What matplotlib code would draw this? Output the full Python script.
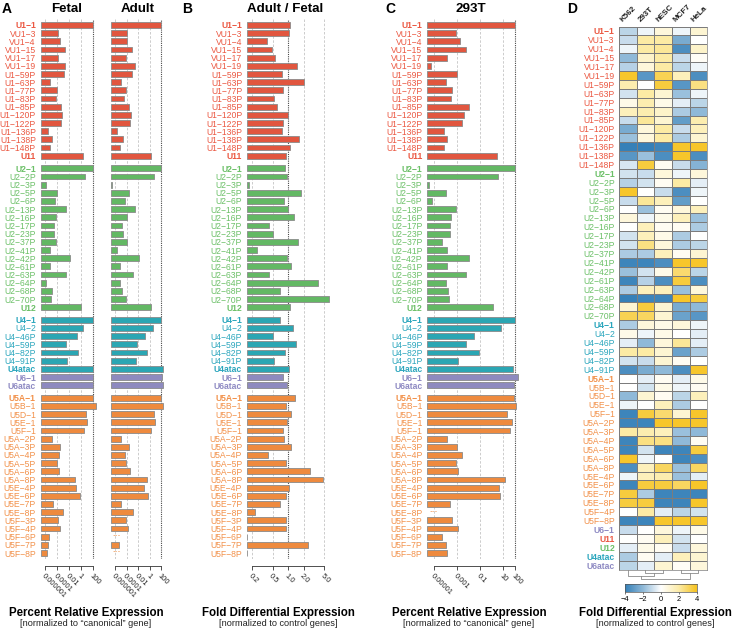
import numpy as np
import matplotlib
matplotlib.use('Agg')
import matplotlib.pyplot as plt
import matplotlib.transforms as mtransforms
from matplotlib.colors import LinearSegmentedColormap
from matplotlib.ticker import NullLocator

plt.rcParams['font.family'] = ['Liberation Sans', 'DejaVu Sans']

## genes dos paineis de barras (A, B, C)
genes = ['U1−1', 'VU1−3', 'VU1−4', 'VU1−15', 'VU1−17', 'VU1−19', 'U1−59P', 'U1−63P',
         'U1−77P', 'U1−83P', 'U1−85P', 'U1−120P', 'U1−122P', 'U1−136P', 'U1−138P',
         'U1−148P', 'U11',
         'U2−1', 'U2−2P', 'U2−3P', 'U2−5P', 'U2−6P', 'U2−13P', 'U2−16P', 'U2−17P',
         'U2−23P', 'U2−37P', 'U2−41P', 'U2−42P', 'U2−61P', 'U2−63P', 'U2−64P',
         'U2−68P', 'U2−70P', 'U12',
         'U4−1', 'U4−2', 'U4−46P', 'U4−59P', 'U4−82P', 'U4−91P', 'U4atac',
         'U6−1', 'U6atac',
         'U5A−1', 'U5B−1', 'U5D−1', 'U5E−1', 'U5F−1', 'U5A−2P', 'U5A−3P', 'U5A−4P',
         'U5A−5P', 'U5A−6P', 'U5A−8P', 'U5E−4P', 'U5E−6P', 'U5E−7P', 'U5E−8P',
         'U5F−3P', 'U5F−4P', 'U5F−6P', 'U5F−7P', 'U5F−8P']
grupos = ['U1'] * 17 + ['U2'] * 18 + ['U4'] * 7 + ['U6'] * 2 + ['U5'] * 20
quebras = [17, 35, 44]

fetal = [100, 1.3e-4, 3.6e-4, 1.9e-3, 1.7e-4, 2.1e-3, 1.5e-3, 7.8e-6, 8.7e-5, 7.8e-5,
         4.1e-4, 6.8e-4, 5.2e-4, 3.6e-6, 1.3e-5, 6.8e-6, 1.9,
         100, 5.2, 1.7e-6, 1.0e-4, 4.7e-5, 2.8e-3, 7.8e-5, 3.2e-5, 3.6e-5, 7.8e-5,
         7.8e-6, 1.3e-2, 6.0e-6, 2.8e-3, 1.7e-6, 1.5e-5, 1.0e-5, 1.0,
         100, 1.9, 0.25, 3.6e-3, 0.28, 5.2e-3, 115,
         115, 115,
         87, 360, 6.0, 11.5, 2.8, 1.5e-5, 3.2e-4, 2.1e-4, 1.0e-4, 1.9e-4, 0.087,
         0.15, 0.78, 1.9e-5, 1.1e-3, 1.3e-4, 2.8e-4, 4.7e-6, 2.8e-6, 2.5e-6]

adulto = [100, 1.2e-4, 1.3e-4, 8.7e-4, 7.9e-5, 2.8e-3, 1.0e-3, 1.3e-5, 7.1e-5, 3.5e-5,
          2.3e-4, 6.6e-4, 3.9e-4, 2.0e-6, 2.1e-5, 7.2e-6, 1.7,
          100, 5.5, 3.5e-7, 2.3e-4, 4.7e-5, 3.2e-3, 1.2e-4, 1.6e-5, 2.1e-5, 1.3e-4,
          2.2e-6, 1.4e-2, 7.2e-6, 1.3e-3, 6.3e-6, 1.4e-5, 7.1e-5, 1.4,
          100, 3.2, 0.17, 7.2e-3, 0.34, 4.3e-3, 170,
          132, 170,
          100, 224, 4.8, 7.2, 1.4, 9.5e-6, 3.0e-4, 5.4e-5, 7.1e-5, 3.4e-4, 0.30,
          0.10, 0.50, 9.5e-6, 1.1e-3, 9.1e-5, 1.5e-4, np.nan, 4.4e-6, np.nan]

adulto_fetal = [1.10, 1.02, 0.39, 0.48, 0.55, 1.49, 0.75, 2.0, 0.78, 0.52, 0.60, 0.98,
                0.78, 0.76, 1.63, 1.07, 0.91,
                0.87, 0.94, 0.175, 1.78, 0.84, 0.99, 1.28, 0.42, 0.51, 1.53, 0.25, 0.94,
                1.14, 0.42, 3.77, 0.69, 6.4, 1.09,
                0.70, 1.23, 0.51, 1.40, 0.86, 0.52, 1.05,
                0.78, 0.95,
                1.38, 0.90, 1.15, 0.94, 0.79, 0.82, 1.12, 0.40, 0.92, 2.67, 4.84, 1.04,
                0.90, 0.70, 0.23, 0.89, 0.92, 0.161, 2.47, 0.161]

hek293t = [100, 8.1e-4, 1.8e-3, 6.2e-3, 1.3e-4, 5.1e-6, 9.5e-4, 9.8e-5, 3.7e-4, 2.7e-4,
           1.1e-2, 3.6e-3, 2.8e-3, 7.4e-5, 1.2e-4, 6.9e-5, 2.7,
           100, 3.3, 3.2e-6, 1.0e-4, 6.3e-6, 7.2e-4, 2.7e-4, 2.2e-4, 2.3e-4, 4.7e-5,
           1.2e-4, 9.8e-3, 1.4e-4, 5.4e-3, 9.8e-5, 1.7e-4, 1.8e-4, 1.2,
           100, 6.3, 0.030, 5.8e-3, 0.083, 1.1e-3, 66,
           182, 93,
           93, 138, 23, 58, 41, 1.3e-4, 1.0e-3, 2.8e-3, 8.1e-4, 1.2e-3, 13.5, 4.0, 5.6,
           2.3e-4, np.nan, 3.2e-4, 1.1e-3, 5.0e-5, 9.8e-5, 1.3e-4]

## heatmap (painel D)
hm_genes = ['U1−1', 'VU1−3', 'VU1−4', 'VU1−15', 'VU1−17', 'VU1−19', 'U1−59P', 'U1−63P',
            'U1−77P', 'U1−83P', 'U1−85P', 'U1−120P', 'U1−122P', 'U1−136P', 'U1−138P',
            'U1−148P',
            'U2−1', 'U2−2P', 'U2−3P', 'U2−5P', 'U2−6P', 'U2−13P', 'U2−16P', 'U2−17P',
            'U2−23P', 'U2−37P', 'U2−41P', 'U2−42P', 'U2−61P', 'U2−63P', 'U2−64P',
            'U2−68P', 'U2−70P',
            'U4−1', 'U4−2', 'U4−46P', 'U4−59P', 'U4−82P', 'U4−91P',
            'U5A−1', 'U5B−1', 'U5D−1', 'U5E−1', 'U5F−1', 'U5A−2P', 'U5A−3P', 'U5A−4P',
            'U5A−5P', 'U5A−6P', 'U5A−8P', 'U5E−4P', 'U5E−6P', 'U5E−7P', 'U5E−8P',
            'U5F−4P', 'U5F−8P',
            'U6−1', 'U11', 'U12', 'U4atac', 'U6atac']
hm_grupos = ['U1'] * 16 + ['U2'] * 17 + ['U4'] * 6 + ['U5'] * 17 + ['U6', 'U1', 'U2', 'U4', 'U6']
linhagens = ['K562', '293T', 'hESC', 'MCF7', 'HeLa']

k562 = [-1.2, -1.0, -0.3, -2.0, -1.3, 3.8, 1.8, -0.8, 0.5, 1.5, -1.0, -2.5, -1.8, -4, -3.2, -0.7,
        -0.8, -1.3, 3.8, -1.0, 0, 0.8, 0, -0.8, -0.8, -1.5, -3.8, -1.8, -3.8, -1.5, -4, 1.0, 3.2,
        -1.5, 0.5, -0.5, 2.0, -0.8, -3.5,
        0, 0, -2.0, -0.3, -3.8, -3.8, 2.0, -3.8, -3.8, 3.8, -3.5, -0.3, -3.8, 3.5, 3.5, 0, -3.8,
        -1.0, 0, -0.5, -1.5, -1.2]
fd_293t = [-0.3, 2.0, 2.0, 1.2, 0.8, -3.2, 0, 2.0, 1.8, 1.8, 2.2, 0.8, 0.8, -4, -1.8, 3.5,
           -1.0, -0.8, 0, 2.2, -1.8, -0.3, 1.5, 1.5, 2.5, -1.5, -3.8, -0.8, -1.3, 1.5, -3.8, 3.5, 3.0,
           0.8, -0.3, -2.0, 2.0, -1.0, -2.5,
           -0.5, -0.8, 1.0, 0, 3.5, -3.8, 1.8, 2.5, -0.8, -0.3, 1.5, 1.5, 3.5, -1.5, 3.5, 2.0, -3.8,
           0, 0.3, 0.5, 0.3, -0.5]
hesc = [0.8, 2.0, 2.2, 2.0, 2.0, 3.2, 3.5, 1.0, 0.5, 1.2, 1.0, 2.0, 2.0, -3.8, -3.5, 0.3,
        0.8, 0.3, -1.0, 1.5, 0.3, 0.5, 0.3, 0.5, 0.8, 1.5, -3.5, 0.5, -3.5, 1.5, -3.8, 1.0, 1.0,
        0.5, 0.5, 0.8, 1.0, 1.0, -2.0,
        0.3, 0.5, 0.3, 1.5, 2.8, 3.8, 1.5, 2.5, -3.8, 0, 3.0, 1.8, 3.5, -3.8, -3.8, -0.5, 3.8,
        0.8, 1.5, 0.3, -0.5, 1.0]
mcf7 = [-0.3, -2.5, -3.5, -1.0, -1.2, 1.5, -3.2, -1.8, -0.5, -1.5, -3.0, -1.0, -1.5, 3.8, 3.8, -1.0,
        -0.3, 2.0, -3.5, -3.0, 0.8, 1.5, 0.3, -1.5, -1.5, 0.3, 3.8, 2.8, 3.5, -1.8, 3.8, -2.5, -2.8,
        0.8, 0, 2.2, -2.8, 0.3, -3.5,
        -0.5, -0.3, -1.2, -1.5, 1.0, 3.8, -1.8, -2.0, -3.8, -3.8, -1.8, -1.8, 3.0, -3.8, -3.8, -1.2, 3.8,
        -0.3, -0.8, -1.0, 1.5, 0.2]
hela = [1.0, 0, 1.2, 0.2, -0.3, -3.5, 2.5, -0.3, -1.2, -2.0, 1.8, 1.5, 1.0, 3.8, -3.5, -2.2,
        0.8, -0.5, -0.3, 0, 1.5, -1.8, -1.5, 0, -1.2, 1.0, 3.8, -1.2, -3.5, 0.8, 3.5, -2.0, -3.2,
        -0.3, -0.5, -0.5, -1.5, 0, 3.8,
        0.5, 0.3, 1.5, 0, 3.8, 3.8, -2.0, 0.3, 3.5, -3.5, 3.0, -0.5, 3.8, -3.8, 3.8, -0.8, 3.8,
        0.5, 0, 0.8, 1.0, 0.8]

## dendrograma das colunas: (grupo esquerdo, grupo direito, altura)
dendro = [((1,), (2,), 1.0), ((3,), (4,), 1.0), ((0,), (1, 2), 1.8), ((0, 1, 2), (3, 4), 2.7)]

negrito = {'U1−1', 'U11', 'U2−1', 'U12', 'U4−1', 'U4atac', 'U6−1', 'U6atac', 'U5A−1'}
cor_barra = {'U1': '#E1563F', 'U2': '#63B864', 'U4': '#2BA6B3', 'U6': '#8E8ABF', 'U5': '#EE8A3E'}
cor_texto = {'U1': '#EB5842', 'U2': '#6CC068', 'U4': '#2BA6BD', 'U6': '#8E8AC3', 'U5': '#F2914A'}

W, H = 737, 630
fig = plt.figure(figsize=(W / 100, H / 100), dpi=100)


def eixo(x0, y0, x1, y1):
    return fig.add_axes([x0 / W, 1 - y1 / H, (x1 - x0) / W, (y1 - y0) / H])


def texto(x, y, s, **kw):
    fig.text(x / W, 1 - y / H, s, **kw)


## posicoes verticais com espacos entre os grupos
ypos = np.arange(len(genes), dtype=float)
for q in quebras:
    ypos[q:] += 0.55
topo = 25 - 0.7 * 8.17
base = 553 + 0.7 * 8.17


def painel_barras(x0, x1, valores, xlim, ticks, ticklabels, ref, rotulos):
    ax = eixo(x0, topo, x1, base)
    ax.set_xscale('log')
    ax.set_xlim(xlim)
    ax.set_ylim(ypos[-1] + 0.7, -0.7)
    for t in ticks:
        if t != ref:
            ax.axvline(t, color='#c4c4c4', lw=0.6, ls=(0, (3, 2)), zorder=0)
    ax.axvline(ref, color='#4a4a4a', lw=0.8, ls=(0, (1, 1)), zorder=0)
    v = np.array(valores, dtype=float)
    ok = ~np.isnan(v)
    cores = np.array([cor_barra[g] for g in grupos])
    ax.barh(ypos[ok], v[ok] - xlim[0], left=xlim[0], height=0.72, color=cores[ok],
            edgecolor='#8a8a8a', linewidth=0.6, zorder=2)
    trans = mtransforms.blended_transform_factory(ax.transAxes, ax.transData)
    for i in np.where(~ok)[0]:
        ax.text(0.02, ypos[i], '···', transform=trans, color=cor_barra[grupos[i]],
                ha='left', va='center', fontsize=6, fontweight='bold')
    for s in ['top', 'right', 'left']:
        ax.spines[s].set_visible(False)
    ax.spines['bottom'].set_position(('outward', 5.3))
    ax.spines['bottom'].set_bounds(ticks[0], ticks[-1])
    ax.spines['bottom'].set_linewidth(0.6)
    ax.spines['bottom'].set_color('#333333')
    ax.set_xticks(ticks)
    ax.set_xticklabels(ticklabels)
    ax.xaxis.set_minor_locator(NullLocator())
    ax.tick_params(axis='x', length=3, width=0.6, color='#333333', labelsize=5.4, pad=1.5,
                   labelcolor='#222222')
    for lab in ax.get_xticklabels():
        lab.set_rotation(-45)
        lab.set_ha('left')
        lab.set_va('top')
        lab.set_rotation_mode('anchor')
    ax.set_yticks(ypos)
    if rotulos:
        ax.set_yticklabels(genes, fontsize=6.2)
        for lab, g, n in zip(ax.get_yticklabels(), grupos, genes):
            lab.set_color(cor_texto[g])
            if n in negrito:
                lab.set_fontweight('bold')
        ax.tick_params(axis='y', length=0, pad=3.5)
    else:
        ax.set_yticklabels([])
        ax.tick_params(axis='y', length=0)
    return ax


## painel A
painel_barras(40.8, 97.2, fetal, (10 ** -6.7, 10 ** 2.7), [1e-6, 1e-4, 1e-2, 1, 100],
              ['0.000001', '0.0001', '0.01', '1', '100'], 100, True)
painel_barras(110.9, 165.3, adulto, (10 ** -6.7, 10 ** 2.7), [1e-6, 1e-4, 1e-2, 1, 100],
              ['0.000001', '0.0001', '0.01', '1', '100'], 100, False)
## painel B
painel_barras(247, 335, adulto_fetal, (0.158, 8.2), [0.2, 0.5, 1.0, 2.0, 5.0],
              ['0.2', '0.5', '1.0', '2.0', '5.0'], 1.0, True)
## painel C
painel_barras(427.3, 520, hek293t, (10 ** -5.61, 10 ** 2.46), [1e-5, 1e-3, 1e-1, 10, 100],
              ['0.00001', '0.001', '0.1', '10', '100'], 100, True)

## painel D - heatmap
cmap = LinearSegmentedColormap.from_list('azul_amarelo',
                                         ['#3580B8', '#8FB9D8', '#FFFFFF', '#FCEBA6', '#F6C21E'])
mat = np.column_stack([k562, fd_293t, hesc, mcf7, hela])
axh = eixo(619, 26.5, 707.3, 569.5)
axh.pcolormesh(mat, cmap=cmap, vmin=-4, vmax=4, edgecolors='#7c7c7c', linewidth=0.4)
axh.set_xlim(0, 5)
axh.set_ylim(len(hm_genes), 0)
axh.set_xticks([])
axh.set_yticks(np.arange(len(hm_genes)) + 0.5)
axh.set_yticklabels(hm_genes, fontsize=6.2)
for lab, g, n in zip(axh.get_yticklabels(), hm_grupos, hm_genes):
    lab.set_color(cor_texto[g])
    if n in negrito:
        lab.set_fontweight('bold')
axh.tick_params(axis='y', length=0, pad=3)
for s in axh.spines.values():
    s.set_color('#7c7c7c')
    s.set_linewidth(0.5)
for j, c in enumerate(linhagens):
    axh.text(j + 0.3, -0.35, c, rotation=45, ha='left', va='bottom', rotation_mode='anchor',
             fontsize=5.8, fontweight='bold', color='#222222')

## dendrograma
axd = eixo(619, 569.5, 707.3, 580)
axd.set_xlim(0, 5)
axd.set_ylim(3.0, 0)
axd.axis('off')
pos = {(i,): (i + 0.5, 0.0) for i in range(5)}
for esq, dir_, h in dendro:
    xe, he = pos[esq]
    xd, hd = pos[dir_]
    axd.plot([xe, xe, xd, xd], [he, h, h, hd], color='#8a8a8a', lw=0.6)
    pos[tuple(sorted(esq + dir_))] = ((xe + xd) / 2, h)

## barra de cores
axc = eixo(625, 584.3, 697, 592.3)
grad = np.linspace(-4, 4, 256).reshape(1, -1)
axc.imshow(grad, cmap=cmap, aspect='auto', extent=(-4, 4, 0, 1), vmin=-4, vmax=4)
axc.set_yticks([])
axc.set_xticks([-4, -2, 0, 2, 4])
axc.tick_params(axis='x', length=1.5, width=0.5, labelsize=5.4, pad=1, color='#444444')
for s in axc.spines.values():
    s.set_color('#555555')
    s.set_linewidth(0.5)

## titulos
texto(2, 9, 'A', fontsize=10, fontweight='bold', va='center', ha='left')
texto(182, 9, 'B', fontsize=10, fontweight='bold', va='center', ha='left')
texto(385, 9, 'C', fontsize=10, fontweight='bold', va='center', ha='left')
texto(567, 9, 'D', fontsize=10, fontweight='bold', va='center', ha='left')
texto(66.5, 9, 'Fetal', fontsize=9.6, fontweight='bold', va='center', ha='center')
texto(138, 9, 'Adult', fontsize=9.6, fontweight='bold', va='center', ha='center')
texto(284.7, 9, 'Adult / Fetal', fontsize=9.6, fontweight='bold', va='center', ha='center')
texto(471, 9, '293T', fontsize=9.6, fontweight='bold', va='center', ha='center')

## legendas inferiores
for xc, t1, t2 in [(86, 'Percent Relative Expression', '[normalized to “canonical” gene]'),
                   (278, 'Fold Differential Expression', '[normalized to control genes]'),
                   (469, 'Percent Relative Expression', '[normalized to “canonical” gene]'),
                   (655, 'Fold Differential Expression', '[normalized to control genes]')]:
    texto(xc, 612.7, t1, fontsize=8.3, fontweight='bold', va='center', ha='center')
    texto(xc, 623.5, t2, fontsize=6.6, va='center', ha='center', color='#222222')

plt.savefig('out.png', dpi=100)
